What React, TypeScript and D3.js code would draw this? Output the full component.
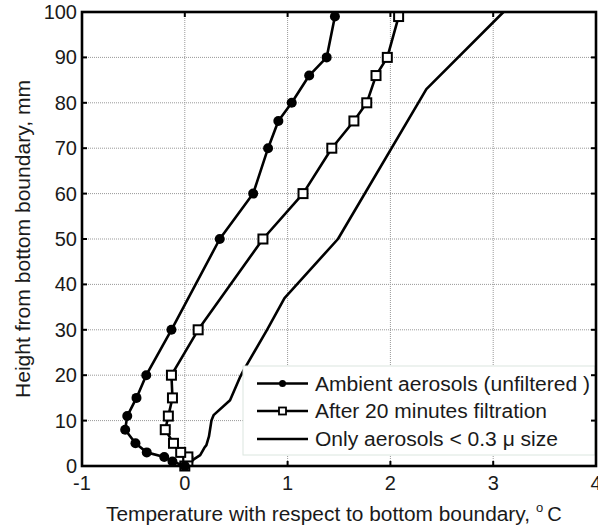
import React from "react";
import * as d3 from "d3";

const heights = [0, 1, 2, 3, 5, 8, 11, 15, 20, 30, 50, 60, 70, 76, 80, 86, 90, 99];
const ambient = [0, -0.12, -0.2, -0.37, -0.48, -0.58, -0.56, -0.47, -0.375, -0.13, 0.34, 0.665, 0.81, 0.91, 1.04, 1.21, 1.38, 1.46];
const filtered = [0, 0.03, 0.03, -0.04, -0.11, -0.19, -0.16, -0.12, -0.13, 0.13, 0.76, 1.15, 1.43, 1.645, 1.77, 1.86, 1.97, 2.08];
const smallHeights = [0, 1.5, 2.4, 4, 4.6, 6.5, 10.1, 11.2, 14.5, 19.7, 21, 30, 37, 50, 83, 100];
const smallTemps = [0, 0.09, 0.15, 0.19, 0.21, 0.235, 0.26, 0.28, 0.44, 0.54, 0.57, 0.8, 0.97, 1.49, 2.35, 3.1];
const xTicks = [-1, 0, 1, 2, 3, 4];
const yTicks = [0, 10, 20, 30, 40, 50, 60, 70, 80, 90, 100];
const legendLabels = ["Ambient aerosols (unfiltered )", "After 20 minutes filtration", "Only aerosols < 0.3 \u03bc size"];
const legendWidths = [275, 232, 243];

const W = 598, H = 531;
const L = 82, R = 596, T = 12, B = 466;

export default function App() {
  const x = d3.scaleLinear().domain([-1, 4]).range([L, R]);
  const y = d3.scaleLinear().domain([0, 100]).range([B, T]);
  const line = d3.line<[number, number]>().x(d => x(d[0])).y(d => y(d[1]));
  const amb: [number, number][] = heights.map((h, i) => [ambient[i], h]);
  const fil: [number, number][] = heights.map((h, i) => [filtered[i], h]);
  const sm: [number, number][] = smallHeights.map((h, i) => [smallTemps[i], h]);
  const font = "Liberation Sans, Arial, sans-serif";
  const lw = 2.6;
  const fs = 20;
  const tc = "#1a1a1a";
  const legX = 243, legY = 366, legW = 352, legH = 89;
  const rows = [383.5, 411, 439];
  return (
    <svg width={W} height={H} style={{ position: "absolute", left: 0, top: 0 }} fontFamily={font}>
      <rect x={0} y={0} width={W} height={H} fill="#fff" />
      {xTicks.slice(1, -1).map(t => (
        <line key={"gx" + t} x1={x(t)} x2={x(t)} y1={T} y2={B} stroke="#999" strokeWidth={1} strokeDasharray="1 1" />
      ))}
      {yTicks.slice(1, -1).map(t => (
        <line key={"gy" + t} x1={L} x2={R} y1={y(t)} y2={y(t)} stroke="#999" strokeWidth={1} strokeDasharray="1 1" />
      ))}
      <path d={line(sm) || ""} fill="none" stroke="#000" strokeWidth={lw} strokeLinejoin="round" />
      <path d={line(fil) || ""} fill="none" stroke="#000" strokeWidth={lw} strokeLinejoin="round" />
      <path d={line(amb) || ""} fill="none" stroke="#000" strokeWidth={lw} strokeLinejoin="round" />
      {fil.map((d, i) => (
        <rect key={"s" + i} x={x(d[0]) - 4.5} y={y(d[1]) - 4.5} width={9} height={9} fill="#fff" stroke="#000" strokeWidth={2} />
      ))}
      {amb.map((d, i) => (
        <circle key={"c" + i} cx={x(d[0])} cy={y(d[1])} r={5} fill="#000" />
      ))}
      {/* legend */}
      <rect x={legX} y={legY} width={legW} height={legH} fill="#fff" stroke="#dbe6df" strokeWidth={1} />
      {rows.map((ry, i) => (
        <g key={"lg" + i}>
          <line x1={257} x2={308} y1={ry} y2={ry} stroke="#000" strokeWidth={lw} />
          {i === 0 && <circle cx={282.5} cy={ry} r={3.5} fill="#000" />}
          {i === 1 && <rect x={279} y={ry - 3.5} width={7} height={7} fill="#fff" stroke="#000" strokeWidth={1.8} />}
          <text x={315} y={ry + 7} fontSize={fs} fill={tc} textLength={legendWidths[i]} lengthAdjust="spacingAndGlyphs">{legendLabels[i]}</text>
        </g>
      ))}
      {/* axis box */}
      <rect x={L} y={T} width={R - L} height={B - T} fill="none" stroke="#000" strokeWidth={2.6} />
      {xTicks.map(t => (
        <g key={"tx" + t}>
          <line x1={x(t)} x2={x(t)} y1={B} y2={B - 5} stroke="#000" strokeWidth={2} />
          <line x1={x(t)} x2={x(t)} y1={T} y2={T + 5} stroke="#000" strokeWidth={2} />
          <text x={x(t)} y={490} fontSize={fs} textAnchor="middle" fill={tc}>{t}</text>
        </g>
      ))}
      {yTicks.map(t => (
        <g key={"ty" + t}>
          <line x1={L} x2={L + 5} y1={y(t)} y2={y(t)} stroke="#000" strokeWidth={2} />
          <line x1={R} x2={R - 5} y1={y(t)} y2={y(t)} stroke="#000" strokeWidth={2} />
          <text x={77} y={y(t) + 7} fontSize={fs} textAnchor="end" fill={tc}>{t}</text>
        </g>
      ))}
      <text x={106} y={521} fontSize={fs} fill={tc}>
        <tspan textLength={424} lengthAdjust="spacingAndGlyphs">Temperature with respect to bottom boundary,</tspan>
        <tspan fontSize={13} dx={6} dy={-9}>o</tspan>
        <tspan dx={4} dy={9}>C</tspan>
      </text>
      <text transform={`translate(30, 398) rotate(-90)`} fontSize={fs} fill={tc} textLength={318} lengthAdjust="spacingAndGlyphs">
        Height from bottom boundary, mm
      </text>
    </svg>
  );
}
